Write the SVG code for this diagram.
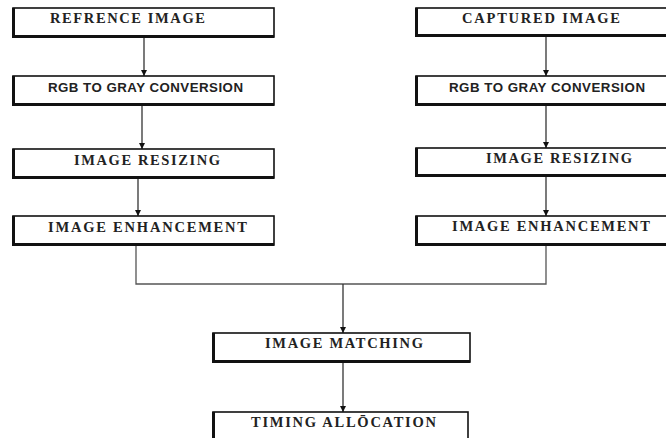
<svg xmlns="http://www.w3.org/2000/svg" width="666" height="438" viewBox="0 0 666 438">
<style>
.box{fill:#fff;stroke:#111;stroke-width:1.6}
.thick{stroke:#111;stroke-width:3;fill:none}
.ser{font-family:"Liberation Serif","Times New Roman",serif;font-weight:bold;font-size:14.5px;fill:#222}
.san{font-family:"Liberation Sans",Arial,sans-serif;font-weight:bold;font-size:13.3px;fill:#222}
.con{stroke:#333;stroke-width:1.3;fill:none}
.con2{stroke:#555;stroke-width:1.3;fill:none}
</style>
<defs>
<marker id="ah" viewBox="0 0 10 10" refX="10" refY="5" markerWidth="6" markerHeight="6" orient="auto" markerUnits="userSpaceOnUse">
<path d="M0,0 L10,5 L0,10 z" fill="#111"/>
</marker>
</defs>
<rect width="666" height="438" fill="#fff"/>
<g id="connectors">
<line class="con" x1="144" y1="37" x2="144" y2="76" marker-end="url(#ah)"/>
<line class="con" x1="142" y1="105" x2="142" y2="149" marker-end="url(#ah)"/>
<line class="con" x1="138" y1="178" x2="138" y2="216" marker-end="url(#ah)"/>
<line class="con" x1="546" y1="36" x2="546" y2="76" marker-end="url(#ah)"/>
<line class="con" x1="546" y1="105" x2="546" y2="148" marker-end="url(#ah)"/>
<line class="con" x1="546" y1="176" x2="546" y2="216" marker-end="url(#ah)"/>
<polyline class="con2" points="136,245 136,284 546,284 546,245"/>
<line class="con" x1="343" y1="284" x2="343" y2="333" marker-end="url(#ah)"/>
<line class="con" x1="343" y1="362" x2="343" y2="412" marker-end="url(#ah)"/>
</g>
<g id="ref_image">
<rect class="box" x="13" y="8" width="261" height="29"/>
<path class="thick" d="M13.5,8 V36.5 H274"/>
<text class="ser" x="50" y="23" textLength="155" lengthAdjust="spacing">REFRENCE IMAGE</text>
</g>
<g id="ref_gray">
<rect class="box" x="13" y="76" width="261" height="29"/>
<path class="thick" d="M13.5,76 V104.5 H274"/>
<text class="san" x="48" y="92" textLength="195" lengthAdjust="spacing">RGB TO GRAY CONVERSION</text>
</g>
<g id="ref_resize">
<rect class="box" x="13" y="149" width="261" height="29"/>
<path class="thick" d="M13.5,149 V177.5 H274"/>
<text class="ser" x="74" y="165" textLength="146" lengthAdjust="spacing">IMAGE RESIZING</text>
</g>
<g id="ref_enh">
<rect class="box" x="13" y="216" width="261" height="29"/>
<path class="thick" d="M13.5,216 V244.5 H274"/>
<text class="ser" x="48" y="232" textLength="199" lengthAdjust="spacing">IMAGE ENHANCEMENT</text>
</g>
<g id="cap_image">
<rect class="box" x="416" y="8" width="260" height="28"/>
<path class="thick" d="M416.5,8 V35.5 H676"/>
<text class="ser" x="462" y="23" textLength="158" lengthAdjust="spacing">CAPTURED IMAGE</text>
</g>
<g id="cap_gray">
<rect class="box" x="416" y="76" width="260" height="29"/>
<path class="thick" d="M416.5,76 V104.5 H676"/>
<text class="san" x="449" y="92" textLength="196" lengthAdjust="spacing">RGB TO GRAY CONVERSION</text>
</g>
<g id="cap_resize">
<rect class="box" x="416" y="148" width="260" height="28"/>
<path class="thick" d="M416.5,148 V175.5 H676"/>
<text class="ser" x="486" y="163" textLength="146" lengthAdjust="spacing">IMAGE RESIZING</text>
</g>
<g id="cap_enh">
<rect class="box" x="416" y="216" width="260" height="29"/>
<path class="thick" d="M416.5,216 V244.5 H676"/>
<text class="ser" x="452" y="231" textLength="198" lengthAdjust="spacing">IMAGE ENHANCEMENT</text>
</g>
<g id="matching">
<rect class="box" x="213" y="333" width="257" height="29"/>
<path class="thick" d="M213.5,333 V361.5 H470"/>
<text class="ser" x="265" y="348" textLength="158" lengthAdjust="spacing">IMAGE MATCHING</text>
</g>
<g id="timing">
<rect class="box" x="213" y="412" width="255" height="34"/>
<path class="thick" d="M213.5,412 V446"/>
<text class="ser" x="251" y="427" textLength="185" lengthAdjust="spacing">TIMING ALLŌCATION</text>
</g>
</svg>
